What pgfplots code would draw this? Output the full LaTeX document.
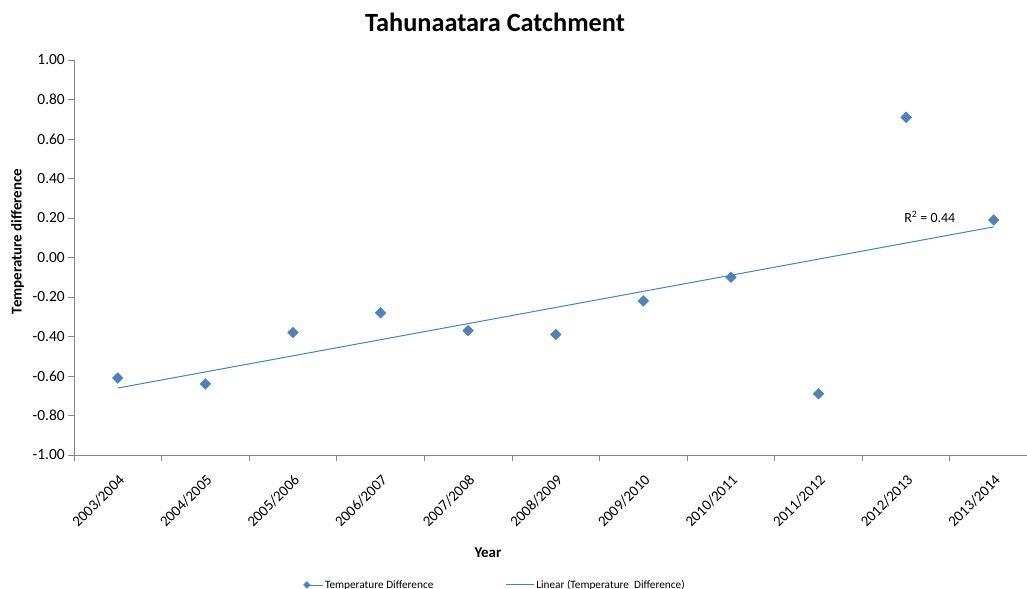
\documentclass[border=0pt]{standalone}
\usepackage{pgfplots}
\pgfplotsset{compat=1.18}
\usepackage{fontspec}
\setmainfont{Carlito}
\definecolor{ser}{HTML}{4F81BD}
\definecolor{trend}{HTML}{3A86D0}
\definecolor{axgray}{HTML}{868686}
\pgfplotsset{
  legscatter/.style={legend image code/.code={\path (0bp,0bp) -- (17bp,0bp); \draw[##1, mark size=2.4bp] plot coordinates {(1bp,0bp)};}},
  legline/.style={legend image code/.code={\draw[##1] (0bp,0bp) -- (28bp,0bp);}},
}
\begin{document}
\begin{tikzpicture}
\path[use as bounding box] (-74bp,-134bp) rectangle (953bp,455bp);
\begin{axis}[
  at={(0,0)}, anchor=south west,
  scale only axis, width=953bp, height=395bp,
  xmin=-0.5, xmax=10.38, ymin=-1, ymax=1,
  axis x line*=bottom, axis y line*=left,
  axis line style={axgray, line width=0.9bp},
  tick style={axgray, line width=0.9bp},
  tick align=outside, major tick length=6bp,
  ytick={-1,-0.8,-0.6,-0.4,-0.2,0,0.2,0.4,0.6,0.8,1},
  yticklabel style={font=\fontsize{15.5}{18}\selectfont, inner sep=3bp, /pgf/number format/.cd, fixed, fixed zerofill, precision=2, assume math mode=true},
  xtick={-0.5,0.5,1.5,2.5,3.5,4.5,5.5,6.5,7.5,8.5,9.5},
  xticklabels={},
  extra x ticks={0,1,2,3,4,5,6,7,8,9,10},
  extra x tick labels={2003/2004,2004/2005,2005/2006,2006/2007,2007/2008,2008/2009,2009/2010,2010/2011,2011/2012,2012/2013,2013/2014},
  extra x tick style={major tick length=0pt},
  xticklabel style={font=\fontsize{15}{17}\selectfont, rotate=45, anchor=north east, inner sep=1bp},
  xticklabel shift=17bp,
  legend style={at={(axis description cs:0.2375,-0.329)}, anchor=west, draw=none, fill=none,
    font=\fontsize{11.3}{12}\selectfont, legend columns=2,
    /tikz/every even column/.append style={column sep=70bp}},
  legend cell align=left,
  clip=false,
]
\addplot[only marks, mark=square*, mark size=3.8bp, color=ser, mark options={rotate=45}, legscatter]
  coordinates {(0,-0.61) (1,-0.64) (2,-0.38) (3,-0.28) (4,-0.37) (5,-0.39) (6,-0.22) (7,-0.10) (8,-0.69) (9,0.71) (10,0.19)};
\addlegendentry{Temperature Difference}
\addplot[trend, line width=1bp, legline]
  coordinates {(0,-0.661) (10,0.155)};
\addlegendentry{Linear (Temperature\ \ Difference)}
\node[font=\fontsize{14}{16}\selectfont] at (axis cs:9.27,0.205) {R\textsuperscript{2} = 0.44};
\end{axis}
\node[font=\bfseries\fontsize{26.4}{30}\selectfont] at (421bp,433bp) {Tahunaatara Catchment};
\node[font=\bfseries\fontsize{15}{17}\selectfont, rotate=90] at (-56.5bp,213.5bp) {Temperature difference};
\node[font=\bfseries\fontsize{15}{17}\selectfont] at (414bp,-98bp) {Year};
\end{tikzpicture}
\end{document}
